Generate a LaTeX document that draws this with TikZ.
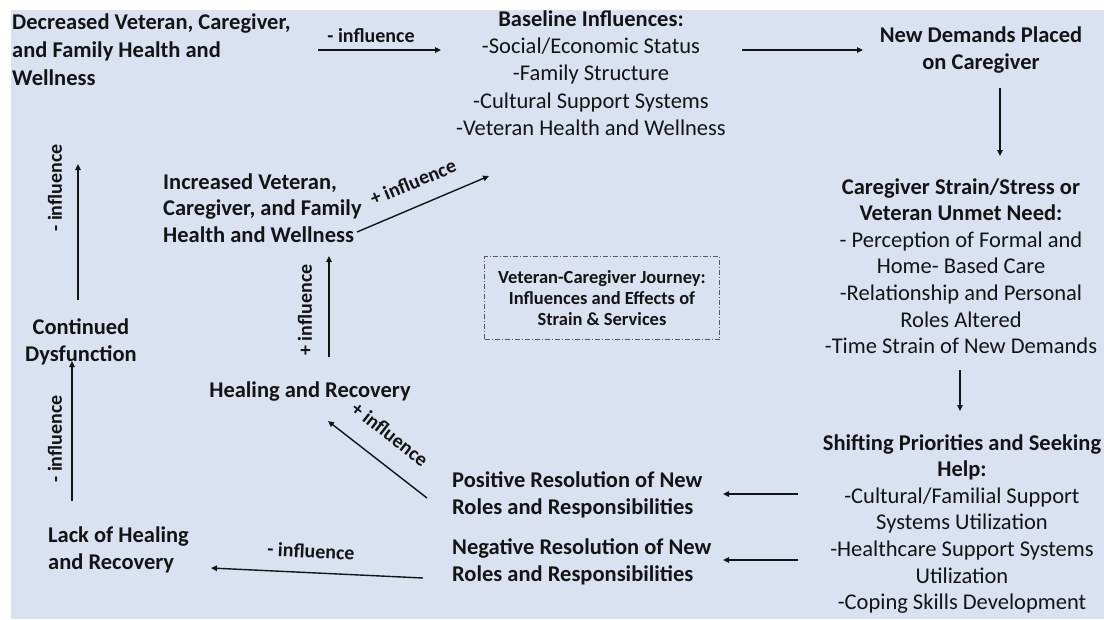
\documentclass[tikz,border=0pt]{standalone}
\usepackage{fontspec}
\setmainfont{Carlito}
\usetikzlibrary{arrows.meta}
\definecolor{bgblue}{RGB}{218,226,242}
\definecolor{ink}{RGB}{20,20,20}
\tikzset{
  txt/.style={inner sep=0pt, text=ink, font=\fontsize{22.5}{26.6}\selectfont},
  btxt/.style={txt, font=\fontsize{22.5}{26.6}\selectfont\bfseries},
  lbl/.style={inner sep=0pt, text=ink, font=\fontsize{20}{22}\selectfont\bfseries},
  conn/.style={draw=ink, line width=1.4pt, -{Triangle[length=6pt,width=5.5pt]}},
  framebox/.style={draw=ink!70, line width=0.7pt, dash pattern=on 5pt off 2pt on 1pt off 2pt, inner sep=0pt, minimum width=235pt, minimum height=83pt}
}
\begin{document}
\begin{tikzpicture}[x=1pt,y=-1pt]
\useasboundingbox (0,0) rectangle (1104,619);
\fill[bgblue] (11,10) rectangle (1104,619);

% nodes
\node[btxt, anchor=west, align=left] (dec) at (12,50) {Decreased Veteran, Caregiver,\\[1.4pt]and Family Health and\\[1.4pt]Wellness};
\node[txt, align=center] (base) at (591,73) {\textbf{Baseline Influences:}\\[0.8pt]-Social/Economic Status\\[0.8pt]-Family Structure\\[0.8pt]-Cultural Support Systems\\[0.8pt]-Veteran Health and Wellness};
\node[btxt, align=center] (newd) at (981,50) {New Demands Placed\\on Caregiver};
\node[txt, align=center] (strain) at (961,266) {\textbf{Caregiver Strain/Stress or}\\\textbf{Veteran Unmet Need:}\\- Perception of Formal and\\Home- Based Care\\-Relationship and Personal\\Roles Altered\\-Time Strain of New Demands};
\node[txt, align=center] (shift) at (962,524) {\textbf{Shifting Priorities and Seeking}\\\textbf{Help:}\\-Cultural/Familial Support\\Systems Utilization\\-Healthcare Support Systems\\Utilization\\-Coping Skills Development};
\node[btxt, anchor=west, align=left] (pos) at (452,495) {Positive Resolution of New\\Roles and Responsibilities};
\node[btxt, anchor=west, align=left] (neg) at (452,562) {Negative Resolution of New\\Roles and Responsibilities};
\node[btxt] (heal) at (310,392) {Healing and Recovery};
\node[btxt, anchor=west, align=left] (inc) at (163,208) {Increased Veteran,\\Caregiver, and Family\\Health and Wellness};
\node[btxt, align=center] (cont) at (81,342) {Continued\\Dysfunction};
\node[btxt, anchor=west, align=left] (lack) at (48,550) {Lack of Healing\\and Recovery};
\node[framebox] (journey) at (602,298) {};
\node[lbl, align=center, font=\fontsize{18.5}{21}\selectfont\bfseries] (jtext) at (journey.center) {Veteran-Caregiver Journey:\\Influences and Effects of\\Strain \& Services};

% connector end points
\coordinate (c1s) at (318,50);  \coordinate (c1e) at (441,50);
\coordinate (c2s) at (742,50);  \coordinate (c2e) at (863,50);
\coordinate (c3s) at (1000,88); \coordinate (c3e) at (1000,156);
\coordinate (c4s) at (960,370); \coordinate (c4e) at (960,411);
\coordinate (c5s) at (798,494); \coordinate (c5e) at (723,494);
\coordinate (c6s) at (798,560); \coordinate (c6e) at (723,560);
\coordinate (c7s) at (427,498); \coordinate (c7e) at (328,421);
\coordinate (c8s) at (329,357); \coordinate (c8e) at (329,256);
\coordinate (c9s) at (357,232); \coordinate (c9e) at (489,176);
\coordinate (c10s) at (78,300); \coordinate (c10e) at (78,164);
\coordinate (c11s) at (72,501); \coordinate (c11e) at (72,361);
\coordinate (c12s) at (423,578); \coordinate (c12e) at (211,568);

% connectors
\draw[conn] (c1s) -- (c1e);
\draw[conn] (c2s) -- (c2e);
\draw[conn] (c3s) -- (c3e);
\draw[conn] (c4s) -- (c4e);
\draw[conn] (c5s) -- (c5e);
\draw[conn] (c6s) -- (c6e);
\draw[conn] (c7s) -- (c7e);
\draw[conn] (c8s) -- (c8e);
\draw[conn] (c9s) -- (c9e);
\draw[conn] (c10s) -- (c10e);
\draw[conn] (c11s) -- (c11e);
\draw[conn] (c12s) -- (c12e);

% labels
\node[lbl] (l1) at (371,36) {- influence};
\node[lbl, rotate=22.5] (l9) at (413,182) {+ influence};
\node[lbl, rotate=90] (l8) at (305,310) {+ influence};
\node[lbl, rotate=-38] (l7) at (390,434) {+ influence};
\node[lbl, rotate=90] (l10) at (55,188) {- influence};
\node[lbl, rotate=90] (l11) at (55,439) {- influence};
\node[lbl, rotate=-2.7] (l12) at (311,551) {- influence};
\end{tikzpicture}
\end{document}
